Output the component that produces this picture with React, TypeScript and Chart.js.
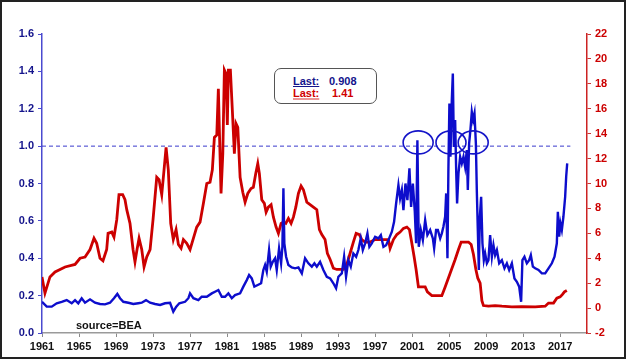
import React, { useEffect, useRef } from "react";
import { Chart, registerables } from "chart.js";

Chart.register(...registerables);

// Category / tick labels
const xTickYears = [1961, 1965, 1969, 1973, 1977, 1981, 1985, 1989, 1993, 1997, 2001, 2005, 2009, 2013, 2017];

// Red series (right axis, %)
const redYears = [
  1961.0, 1961.32, 1961.86, 1962.41, 1963.49, 1964.57, 1965.11, 1965.65, 1966.19, 1966.62, 1966.91, 1967.27, 1967.59, 1967.99,
  1968.14, 1968.54, 1968.78, 1969.08, 1969.32, 1969.72, 1969.97, 1970.16, 1970.51, 1970.84, 1971.05, 1971.27, 1971.49, 1971.78,
  1972.03, 1972.32, 1972.68, 1973.0, 1973.4, 1973.65, 1973.94, 1974.19, 1974.41, 1974.65, 1974.91, 1975.19, 1975.49, 1975.74,
  1976.03, 1976.28, 1976.64, 1977.0, 1977.36, 1977.72, 1978.08, 1978.44, 1978.81, 1979.16, 1979.41, 1979.63, 1979.89, 1980.06,
  1980.17, 1980.35, 1980.54, 1980.71, 1980.89, 1981.03, 1981.14, 1981.36, 1981.57, 1981.79, 1981.97, 1982.16, 1982.41, 1982.7,
  1982.95, 1983.24, 1983.59, 1983.84, 1984.1, 1984.32, 1984.49, 1984.75, 1985.03, 1985.22, 1985.46, 1985.76, 1986.01, 1986.3,
  1986.55, 1986.84, 1987.09, 1987.35, 1987.63, 1987.92, 1988.17, 1988.43, 1988.71, 1989.0, 1989.25, 1989.62, 1989.97, 1990.33,
  1990.7, 1990.98, 1991.24, 1991.59, 1991.84, 1992.14, 1992.49, 1992.86, 1993.57, 1993.94, 1994.3, 1994.65, 1994.95, 1995.3,
  1995.56, 1995.92, 1996.46, 1997.0, 1998.08, 1998.44, 1998.62, 1998.98, 1999.35, 1999.7, 2000.06, 2000.43, 2000.71, 2000.97,
  2001.22, 2001.43, 2001.68, 2002.41, 2002.65, 2003.13, 2004.21, 2004.57, 2005.11, 2005.65, 2006.01, 2006.3, 2007.09, 2007.38,
  2007.63, 2007.89, 2008.1, 2008.35, 2008.54, 2008.71, 2009.25, 2009.97, 2010.7, 2011.78, 2012.86, 2014.3, 2015.38, 2015.74,
  2016.28, 2016.64, 2017.0, 2017.25, 2017.46, 2017.72,
];
const redRates = [
  2.5, 1.2, 2.5, 2.9, 3.3, 3.5, 4.0, 4.1, 4.7, 5.6, 5.2, 4.0, 3.8, 4.7,
  6.0, 6.1, 5.7, 7.1, 9.1, 9.1, 8.7, 7.9, 6.8, 4.7, 3.7, 4.7, 5.6, 4.7,
  3.3, 4.1, 4.7, 7.1, 10.5, 10.3, 9.1, 11.1, 12.9, 11.1, 6.8, 5.5, 6.3, 5.1,
  4.8, 5.5, 5.2, 4.7, 5.6, 6.5, 6.9, 8.4, 10.0, 10.1, 11.1, 13.7, 13.9, 17.6,
  14.3, 9.2, 12.4, 19.1, 18.8, 14.7, 19.1, 19.1, 15.9, 12.4, 14.8, 14.5, 10.5, 9.3,
  8.5, 9.2, 9.6, 9.7, 10.8, 11.6, 10.8, 8.7, 8.4, 7.7, 8.1, 8.3, 7.3, 6.5,
  6.0, 6.8, 6.9, 6.8, 7.2, 6.8, 7.3, 8.1, 9.2, 9.8, 9.5, 8.5, 8.3, 8.1,
  7.9, 6.3, 5.9, 5.5, 4.4, 3.9, 3.2, 3.1, 3.1, 3.5, 4.4, 5.3, 6.0, 5.9,
  5.5, 5.3, 5.3, 5.5, 5.5, 5.5, 4.8, 5.5, 5.9, 6.1, 6.4, 6.5, 6.3, 5.2,
  4.1, 3.1, 1.7, 1.7, 1.3, 1.0, 1.0, 1.7, 2.8, 3.9, 4.7, 5.3, 5.3, 5.1,
  4.3, 3.1, 2.4, 2.0, 0.6, 0.2, 0.15, 0.2, 0.15, 0.1, 0.12, 0.1, 0.15, 0.4,
  0.4, 0.8, 0.9, 1.1, 1.3, 1.41,
];

// Blue series (left axis, ratio)
const blueYears = [
  1961.0, 1961.51, 1962.05, 1962.59, 1963.13, 1963.67, 1964.21, 1964.57, 1964.92, 1965.29, 1965.65, 1966.19, 1966.73, 1967.27,
  1967.81, 1968.35, 1968.78, 1969.14, 1969.43, 1969.79, 1970.33, 1970.87, 1971.41, 1971.78, 1972.24, 1972.68, 1973.22, 1973.76,
  1974.3, 1974.84, 1975.19, 1975.49, 1975.84, 1976.46, 1976.82, 1977.0, 1977.36, 1977.9, 1978.26, 1978.81, 1979.35, 1979.7,
  1980.06, 1980.43, 1980.78, 1981.14, 1981.51, 1981.86, 1982.41, 1982.76, 1983.13, 1983.38, 1983.67, 1983.95, 1984.32, 1984.68,
  1984.92, 1985.11, 1985.29, 1985.54, 1985.72, 1985.94, 1986.19, 1986.37, 1986.62, 1986.84, 1986.98, 1987.09, 1987.19, 1987.38,
  1987.63, 1987.99, 1988.35, 1988.71, 1989.08, 1989.43, 1989.79, 1990.16, 1990.44, 1990.7, 1991.05, 1991.41, 1991.78, 1992.14,
  1992.49, 1992.78, 1993.03, 1993.4, 1993.65, 1993.86, 1994.11, 1994.37, 1994.65, 1994.95, 1995.19, 1995.45, 1995.67, 1995.92,
  1996.17, 1996.38, 1996.64, 1997.0, 1997.36, 1997.62, 1997.9, 1998.19, 1998.44, 1998.81, 1999.05, 1999.27, 1999.52, 1999.7,
  1999.89, 2000.06, 2000.28, 2000.49, 2000.71, 2000.89, 2001.08, 2001.29, 2001.43, 2001.57, 2001.72, 2001.94, 2002.16, 2002.41,
  2002.65, 2002.95, 2003.24, 2003.38, 2003.59, 2003.78, 2004.03, 2004.21, 2004.38, 2004.57, 2004.68, 2004.82, 2004.92, 2005.03,
  2005.14, 2005.29, 2005.4, 2005.51, 2005.65, 2005.76, 2005.86, 2006.01, 2006.19, 2006.37, 2006.55, 2006.73, 2006.91, 2007.02,
  2007.16, 2007.3, 2007.45, 2007.59, 2007.74, 2007.89, 2007.99, 2008.1, 2008.21, 2008.32, 2008.46, 2008.6, 2008.75, 2008.89,
  2009.08, 2009.25, 2009.43, 2009.62, 2009.79, 2009.97, 2010.16, 2010.41, 2010.7, 2010.98, 2011.24, 2011.49, 2011.78, 2012.06,
  2012.32, 2012.57, 2012.78, 2012.92, 2013.14, 2013.4, 2013.65, 2013.83, 2014.05, 2014.3, 2014.66, 2015.02, 2015.38, 2015.74,
  2016.1, 2016.39, 2016.64, 2016.75, 2016.89, 2017.03, 2017.18, 2017.35, 2017.54, 2017.65, 2017.76,
];
const blueRatio = [
  0.167, 0.141, 0.141, 0.159, 0.167, 0.176, 0.159, 0.176, 0.159, 0.186, 0.162, 0.18, 0.162, 0.155,
  0.153, 0.162, 0.186, 0.209, 0.186, 0.167, 0.162, 0.155, 0.159, 0.162, 0.176, 0.162, 0.155, 0.15,
  0.159, 0.162, 0.114, 0.14, 0.159, 0.167, 0.186, 0.212, 0.186, 0.176, 0.194, 0.194, 0.212, 0.221,
  0.23, 0.194, 0.194, 0.212, 0.186, 0.203, 0.212, 0.248, 0.283, 0.31, 0.292, 0.248, 0.257, 0.266,
  0.337, 0.364, 0.328, 0.444, 0.355, 0.381, 0.4, 0.337, 0.453, 0.373, 0.461, 0.774, 0.48, 0.408,
  0.364, 0.351, 0.346, 0.351, 0.319, 0.4, 0.373, 0.355, 0.373, 0.355, 0.381, 0.337, 0.301, 0.292,
  0.266, 0.239, 0.301, 0.319, 0.408, 0.301, 0.39, 0.355, 0.426, 0.408, 0.444, 0.506, 0.444, 0.48,
  0.533, 0.461, 0.48, 0.515, 0.506, 0.524, 0.461, 0.47, 0.497, 0.542, 0.595, 0.693, 0.791, 0.72,
  0.765, 0.658, 0.8, 0.711, 0.881, 0.675, 0.8, 0.649, 0.48, 1.032, 0.461, 0.551, 0.497, 0.604,
  0.524, 0.551, 0.506, 0.453, 0.551, 0.551, 0.506, 0.533, 0.569, 0.622, 0.747, 0.4, 0.872, 1.228,
  0.943, 1.246, 1.389, 0.996, 1.139, 0.872, 0.693, 0.854, 0.943, 0.907, 0.943, 0.889, 0.979, 0.765,
  1.014, 1.086, 1.183, 1.139, 1.175, 1.014, 0.765, 0.551, 0.337, 0.622, 0.729, 0.48, 0.39, 0.426,
  0.373, 0.39, 0.524, 0.408, 0.47, 0.417, 0.444, 0.373, 0.39, 0.346, 0.373, 0.337, 0.373, 0.292,
  0.274, 0.248, 0.167, 0.39, 0.408, 0.373, 0.39, 0.417, 0.355, 0.346, 0.337, 0.319, 0.319, 0.346,
  0.373, 0.408, 0.48, 0.649, 0.515, 0.587, 0.551, 0.622, 0.729, 0.836, 0.908,
];

// Reference line at 1.0 and highlighted spikes
const refLineYears = [1961, 2018.1];
const refLineValues = [1.0, 1.0];
const circleYears = [2001.65, 2005.2, 2007.6];
const circleValues = [1.02, 1.02, 1.02];

const lastBlue = "0.908";
const lastRed = "1.41";

const FONT = "'Liberation Sans', Arial, sans-serif";

const ellipsePlugin = {
  id: "spikeCircles",
  afterDatasetsDraw(chart: any) {
    const { ctx, scales } = chart;
    const xs = scales.x;
    const ys = scales.y;
    ctx.save();
    ctx.strokeStyle = "#1414c8";
    ctx.lineWidth = 1.6;
    circleYears.forEach((yr, i) => {
      ctx.beginPath();
      ctx.ellipse(xs.getPixelForValue(yr), ys.getPixelForValue(circleValues[i]), 15, 11.5, 0, 0, Math.PI * 2);
      ctx.stroke();
    });
    ctx.restore();
  },
};

export default function App() {
  const canvasRef = useRef<HTMLCanvasElement | null>(null);

  useEffect(() => {
    const canvas = canvasRef.current;
    if (!canvas) return;
    const chart = new Chart(canvas, {
      type: "line",
      data: {
        datasets: [
          {
            label: "ref",
            data: refLineYears.map((x, i) => ({ x, y: refLineValues[i] })),
            yAxisID: "y",
            borderColor: "#3a3acc",
            borderWidth: 1,
            borderDash: [4, 3],
            pointRadius: 0,
            order: 3,
          },
          {
            label: "rate",
            data: redYears.map((x, i) => ({ x, y: redRates[i] })),
            yAxisID: "y2",
            borderColor: "#cc0000",
            borderWidth: 2.8,
            pointRadius: 0,
            tension: 0,
            order: 2,
          },
          {
            label: "ratio",
            data: blueYears.map((x, i) => ({ x, y: blueRatio[i] })),
            yAxisID: "y",
            borderColor: "#0d0dcc",
            borderWidth: 2.4,
            pointRadius: 0,
            tension: 0,
            order: 1,
          },
        ],
      },
      options: {
        responsive: false,
        animation: false,
        devicePixelRatio: 1,
        layout: { padding: { top: 34, left: 0, right: 0, bottom: 0 } },
        plugins: { legend: { display: false }, tooltip: { enabled: false } },
        scales: {
          x: {
            type: "linear",
            min: 1961,
            max: 2019.9,
            afterBuildTicks: (s: any) => {
              s.ticks = xTickYears.map((v) => ({ value: v }));
            },
            afterFit: (s: any) => {
              s.height = 29;
            },
            ticks: {
              autoSkip: false,
              maxRotation: 0,
              padding: 3,
              color: "#111",
              font: { family: FONT, size: 11, weight: "bold" },
              callback: (v: any) => String(v),
            },
            grid: { drawOnChartArea: false, drawTicks: true, tickLength: 4, color: "#8a8a8a" },
            border: { display: true, color: "#9a9a9a", width: 1.5 },
          },
          y: {
            type: "linear",
            position: "left",
            min: 0,
            max: 1.6,
            afterFit: (s: any) => {
              s.width = 42;
            },
            ticks: {
              stepSize: 0.2,
              padding: 4,
              color: "#14148c",
              font: { family: FONT, size: 11, weight: "bold" },
              callback: (v: any) => Number(v).toFixed(1),
            },
            grid: { drawOnChartArea: false, drawTicks: true, tickLength: 4, color: "#4a4acc" },
            border: { display: true, color: "#4a4ad0", width: 1.5 },
          },
          y2: {
            type: "linear",
            position: "right",
            min: -2,
            max: 22,
            afterFit: (s: any) => {
              s.width = 39;
            },
            ticks: {
              stepSize: 2,
              padding: 4,
              color: "#cc0000",
              font: { family: FONT, size: 11, weight: "bold" },
              callback: (v: any) => String(Math.round(Number(v))),
            },
            grid: { drawOnChartArea: false, drawTicks: true, tickLength: 4, color: "#cc3333" },
            border: { display: true, color: "#cc2222", width: 1.5 },
          },
        },
      },
      plugins: [ellipsePlugin],
    });
    return () => chart.destroy();
  }, []);

  const txt: React.CSSProperties = {
    position: "absolute",
    fontFamily: FONT,
    fontWeight: "bold",
    fontSize: 11,
    lineHeight: "12px",
    whiteSpace: "nowrap",
  };

  return (
    <div style={{ position: "absolute", left: 0, top: 0, width: 626, height: 362, background: "#fff" }}>
      <canvas ref={canvasRef} width={626} height={362} style={{ position: "absolute", left: 0, top: 0 }} />
      <div
        style={{
          position: "absolute",
          left: 0,
          top: 0,
          width: 626,
          height: 359,
          boxSizing: "border-box",
          border: "2px solid #222",
          pointerEvents: "none",
        }}
      />
      <div
        style={{
          position: "absolute",
          left: 274,
          top: 68,
          width: 103,
          height: 36,
          boxSizing: "border-box",
          border: "1px solid #555",
          borderRadius: 7,
          background: "#fff",
        }}
      />
      <div style={{ ...txt, left: 293, top: 75, color: "#14148c", textDecoration: "underline" }}>Last:</div>
      <div style={{ ...txt, left: 329, top: 75, color: "#14148c" }}>{lastBlue}</div>
      <div
        style={{
          ...txt,
          left: 293,
          top: 87,
          color: "#d00000",
          textDecoration: "underline",
          textDecorationColor: "rgba(220,60,60,0.55)",
          textDecorationThickness: 2,
        }}
      >
        Last:
      </div>
      <div style={{ ...txt, left: 332, top: 87, color: "#d00000" }}>{lastRed}</div>
      <div style={{ ...txt, left: 76, top: 319, color: "#111" }}>source=BEA</div>
    </div>
  );
}
